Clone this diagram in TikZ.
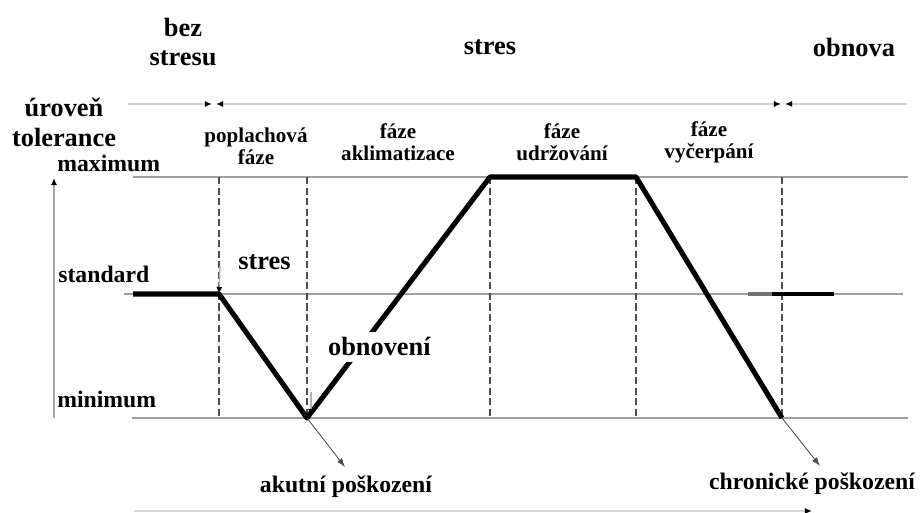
\documentclass[tikz,border=0pt]{standalone}
\usepackage{fontspec}
\setmainfont{Liberation Serif}
\usetikzlibrary{arrows.meta, positioning}

\begin{document}
\begin{tikzpicture}[x=0.02cm, y=-0.02cm,
        level/.style={draw=gray!75, line width=1.5pt},
        phase/.style={draw=black!70, line width=1.1pt, dash pattern=on 4pt off 2pt},
        curve/.style={line width=2.9pt, line join=round},
        tline/.style={draw=gray!35, line width=1.3pt},
        tipR/.style={-{Latex[length=4pt, width=3.5pt, color=black]}},
        tipL/.style={{Latex[length=4pt, width=3.5pt, color=black]}-},
        pointer/.style={draw=black!70, line width=0.5pt, -{Latex[length=5pt, width=3.5pt]}},
        big/.style={font=\fontsize{15}{17}\selectfont\bfseries, align=center},
        mid/.style={font=\fontsize{13.5}{14}\selectfont\bfseries},
        small/.style={font=\fontsize{12}{12.5}\selectfont\bfseries, align=center}]

        \useasboundingbox (0,0) rectangle (921,513);

        % Úrovně tolerance (vodorovné čáry)
        \coordinate (maxL) at (133,177);
        \coordinate (maxR) at (908,177);
        \coordinate (stdL) at (124,294);
        \coordinate (stdR) at (903,294);
        \coordinate (minL) at (132,418);
        \coordinate (minR) at (908,418);
        \draw[level] (maxL) -- (maxR);
        \draw[level] (stdL) -- (stdR);
        \draw[level] (minL) -- (minR);

        % Hranice fází (čárkované svislice)
        \foreach \x/\n in {219/a, 307/b, 490/c, 636/d, 782/e} {
            \coordinate (top\n) at (\x,177);
            \coordinate (bot\n) at (\x,418);
            \draw[phase] (top\n) -- (bot\n);
        }

        % Svislá osa vlevo
        \coordinate (ax0) at (54,418);
        \coordinate (ax1) at (54,178);
        \draw[draw=gray!70, line width=1.2pt, tipR] (ax0) -- (ax1);

        % Časová osa nahoře se třemi úseky
        \coordinate (t0) at (128,104);
        \coordinate (t1) at (212,104);
        \coordinate (t2) at (216,104);
        \coordinate (t3) at (781,104);
        \coordinate (t4) at (785,104);
        \coordinate (t5) at (907,104);
        \draw[tline, tipR] (t0) -- (t1);
        \draw[tline, {Latex[length=4pt, width=3.5pt, color=black]}-{Latex[length=4pt, width=3.5pt, color=black]}] (t2) -- (t3);
        \draw[tline, tipL] (t4) -- (t5);

        % Časová osa dole
        \coordinate (b0) at (134,511);
        \coordinate (b1) at (812,511);
        \draw[tline, tipR] (b0) -- (b1);

        % Průběh tolerance
        \coordinate (S0) at (133,294);
        \coordinate (S1) at (219,294);
        \coordinate (S2) at (307,418);
        \coordinate (S3) at (490,177);
        \coordinate (S4) at (636,177);
        \coordinate (S5) at (782,418);
        \draw[curve] (S0) -- (S1) -- (S2) -- (S3) -- (S4) -- (S5);
        \coordinate (R0) at (748,294);
        \coordinate (R1) at (772,294);
        \coordinate (R2) at (834,294);
        \draw[black!55, line width=1.8pt] (R0) -- (R1);
        \draw[black, line width=2.3pt] (R1) -- (R2);

        % Malé šipky stres / obnovení
        \coordinate (stresTop) at (220,266);
        \draw[draw=gray!60, line width=0.8pt, -{Latex[length=4pt, width=3.5pt, color=black]}] (stresTop) -- (S1);
        \coordinate (obnTop) at (311,392);
        \coordinate (obnBot) at (311,416);
        \draw[draw=gray!60, line width=0.8pt, -{Latex[length=4pt, width=3.5pt, color=black]}] (obnTop) -- (obnBot);

        % Popisky nahoře
        \node[big] (bez) at (183,42) {bez\\stresu};
        \node[big] (stres) at (490,47) {stres};
        \node[big] (obnova) at (854,47) {obnova};
        \node[big] (uroven) at (64,122) {úroveň\\tolerance};

        % Názvy fází
        \node[small] (poplach) at (256,146) {poplachová\\fáze};
        \node[small] (aklim) at (398,142) {fáze\\aklimatizace};
        \node[small] (udrz) at (562,142) {fáze\\udržování};
        \node[small] (vycerp) at (709,142) {fáze\\vyčerpání};

        % Popisky úrovní
        \node[mid, anchor=base west, inner sep=0pt] (maximum) at (57,172) {maximum};
        \node[mid, anchor=base west, inner sep=0pt] (standard) at (58,283) {standard};
        \node[mid, anchor=base west, inner sep=0pt] (minimum) at (57,408) {minimum};

        % Popisky v grafu
        \node[big, anchor=base west, inner sep=0pt] (stresIn) at (238,270) {stres};
        \node[big, anchor=base west, fill=white, inner xsep=1pt, inner ysep=3pt] (obnoveni) at (326,356) {obnovení};

        % Poškození
        \node[mid, anchor=base, inner sep=0pt] (akutni) at (346,493) {akutní poškození};
        \node[mid, anchor=base, inner sep=0pt] (chronic) at (812,490) {chronické poškození};
        \coordinate (akTip) at (345,467);
        \coordinate (chTip) at (820,466);
        \draw[pointer] (S2) -- (akTip);
        \draw[pointer] (S5) -- (chTip);

    \end{tikzpicture}
\end{document}
